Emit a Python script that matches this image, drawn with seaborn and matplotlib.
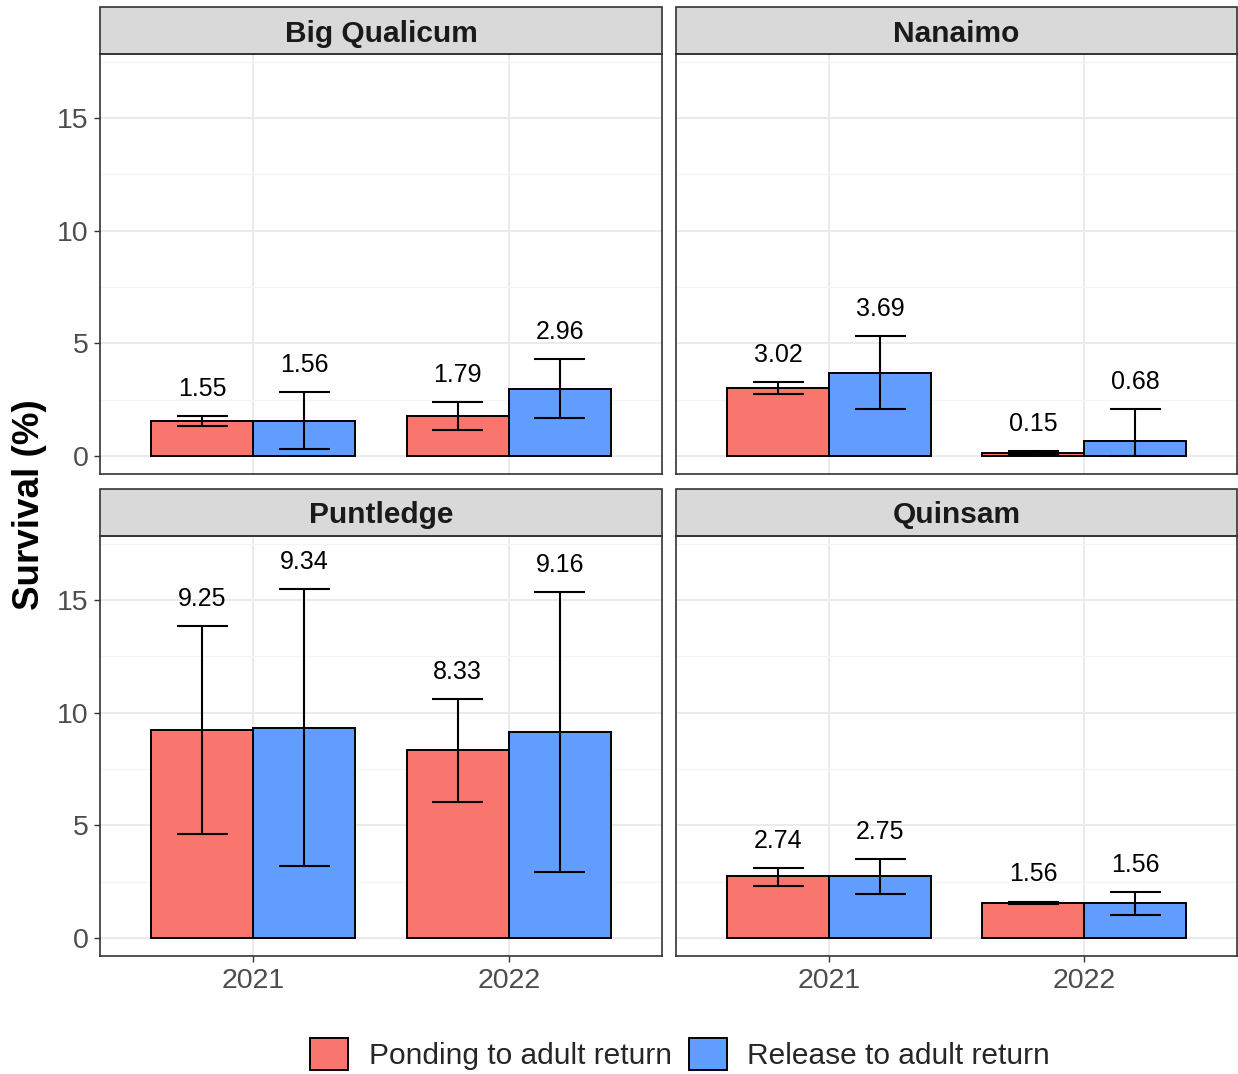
import matplotlib
matplotlib.use("Agg")
import matplotlib.pyplot as plt
from matplotlib.patches import Patch, Rectangle
from matplotlib.ticker import MultipleLocator
import seaborn as sns
import pandas as pd

# ---- data -------------------------------------------------------------
sites = ["Big Qualicum", "Nanaimo", "Puntledge", "Quinsam"]
years = ["2021", "2022"]
metrics = ["Ponding to adult return", "Release to adult return"]

# per site: [2021, 2022]
pond_mean = [[1.55, 1.79], [3.02, 0.15], [9.25, 8.33], [2.74, 1.56]]
pond_low = [[1.32, 1.17], [2.76, 0.09], [4.63, 6.03], [2.33, 1.50]]
pond_high = [[1.79, 2.41], [3.29, 0.21], [13.85, 10.62], [3.12, 1.62]]

rel_mean = [[1.56, 2.96], [3.69, 0.68], [9.34, 9.16], [2.75, 1.56]]
rel_low = [[0.30, 1.67], [2.08, 0.00], [3.19, 2.94], [1.96, 1.01]]
rel_high = [[2.83, 4.29], [5.31, 2.07], [15.50, 15.38], [3.50, 2.05]]

colors = ["#F8766D", "#619CFF"]

rows = []
for i, site in enumerate(sites):
    for j, yr in enumerate(years):
        rows.append(dict(site=site, year=yr, metric=metrics[0],
                         survival=pond_mean[i][j], lo=pond_low[i][j], hi=pond_high[i][j]))
        rows.append(dict(site=site, year=yr, metric=metrics[1],
                         survival=rel_mean[i][j], lo=rel_low[i][j], hi=rel_high[i][j]))
df = pd.DataFrame(rows)

# ---- style ------------------------------------------------------------
sns.set_theme(style="white")
plt.rcParams["font.family"] = ["Liberation Sans", "DejaVu Sans"]

W, H = 1238, 1074
fig = plt.figure(figsize=(W / 100, H / 100), dpi=100)

panel_x = [(100, 662), (676, 1237)]
panel_y = [(54, 474), (536, 956)]
strip_h = 47

grid_major = "#EBEBEB"
border = "#333333"
tick_col = "#4D4D4D"

for k, site in enumerate(sites):
    r, c = divmod(k, 2)
    x0, x1 = panel_x[c]
    y0, y1 = panel_y[r]
    ax = fig.add_axes([x0 / W, 1 - y1 / H, (x1 - x0) / W, (y1 - y0) / H])
    sub = df[df.site == site]

    sns.barplot(data=sub, x="year", y="survival", hue="metric",
                order=years, hue_order=metrics, palette=colors, saturation=1,
                edgecolor="black", linewidth=1.4, width=0.8,
                errorbar=None, legend=False, ax=ax, zorder=3)

    for cont, metric in zip(ax.containers, metrics):
        msub = sub[sub.metric == metric].set_index("year").loc[years]
        for bar, (_, row) in zip(cont, msub.iterrows()):
            xc = bar.get_x() + bar.get_width() / 2
            ax.vlines(xc, row.lo, row.hi, color="black", lw=1.5, zorder=4)
            ax.hlines([row.lo, row.hi], xc - 0.1, xc + 0.1, color="black",
                      lw=1.5, zorder=4)
            ax.text(xc, row.hi + 1.2, f"{row.survival:.2f}", ha="center",
                    va="center", fontsize=18, color="black", zorder=5)

    ax.set_xlim(-0.6, 1.6)
    ax.set_ylim(-0.8, 17.85)
    ax.yaxis.set_major_locator(MultipleLocator(5))
    ax.yaxis.set_minor_locator(MultipleLocator(2.5))
    ax.grid(True, which="major", color=grid_major, lw=1.4, zorder=0)
    ax.grid(True, which="minor", axis="y", color="#F4F4F4", lw=0.9, zorder=0)
    ax.set_axisbelow(True)
    for sp in ax.spines.values():
        sp.set_color(border)
        sp.set_linewidth(1.2)
    ax.set_xlabel("")
    ax.set_ylabel("")
    ax.tick_params(axis="both", which="major", length=4, width=1.0,
                   color=border, labelsize=20.5, labelcolor=tick_col, pad=4,
                   bottom=(r == 1), left=(c == 0),
                   labelbottom=(r == 1), labelleft=(c == 0))
    ax.tick_params(axis="x", pad=5)
    ax.tick_params(which="minor", length=0)

    # facet strip
    sh = strip_h / (y1 - y0)
    ax.add_patch(Rectangle((0, 1), 1, sh, transform=ax.transAxes,
                           facecolor="#D9D9D9", edgecolor=border, lw=1.2,
                           clip_on=False))
    ax.text(0.5, 1 + sh / 2 - 3 / (y1 - y0), site, transform=ax.transAxes,
            ha="center", va="center", fontsize=21.5, fontweight="bold",
            color="#1A1A1A")

fig.text(30 / W, 1 - 505 / H, "Survival (%)", rotation=90, ha="center",
         va="center", fontsize=26.5, fontweight="bold", color="black")

handles = [Patch(facecolor=col, edgecolor="black", lw=1.4) for col in colors]
fig.legend(handles, metrics, loc="center", bbox_to_anchor=(680 / W, 1 - 1054 / H),
           ncol=2, frameon=False, fontsize=21.5, handlelength=1.27, handleheight=1.27,
           handletextpad=0.7, columnspacing=0.57, borderpad=0.2)

fig.savefig("out.png", dpi=100)
